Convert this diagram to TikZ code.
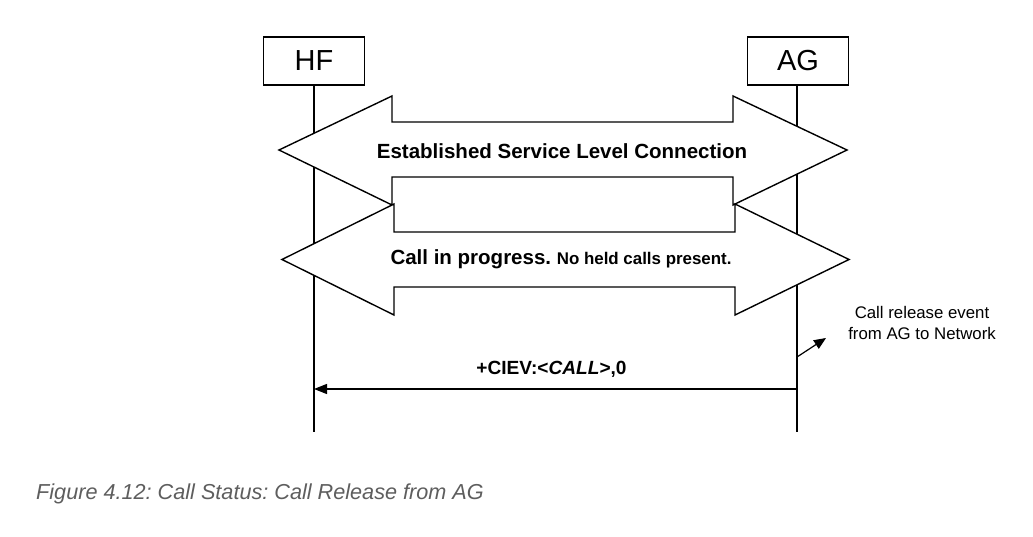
\documentclass[tikz,border=0pt]{standalone}
\usepackage{fontspec}
\setmainfont{Liberation Sans}
\usetikzlibrary{arrows.meta}
\frenchspacing
\tikzset{
  ent/.style={draw, line width=1.3pt, minimum width=101pt, minimum height=48pt, inner sep=0pt, font=\fontsize{29}{32}\selectfont},
  life/.style={line width=1.2pt},
  blockarrow/.style={draw, fill=white, line width=1.4pt, line join=miter},
  msg/.style={line width=1.2pt, -{Triangle[length=13pt, width=10pt]}},
  lbl/.style={inner sep=0pt, font=\bfseries\fontsize{20.5}{24}\selectfont},
  note/.style={inner sep=0pt, align=center, font=\fontsize{16.8}{21}\selectfont},
  figcaption/.style={inner sep=0pt, anchor=west, text=black!63, font=\itshape\fontsize{21.65}{26}\selectfont}
}
\begin{document}
\begin{tikzpicture}[x=1pt,y=-1pt]
\frenchspacing
\useasboundingbox[fill=white] (0,0) rectangle (1033,537);
% entities
\node[ent] (hf) at (314,61) {HF};
\node[ent] (ag) at (798,61) {AG};
\coordinate (hfend) at (314,432);
\coordinate (agend) at (797,432);
\draw[life] (hf.south) -- (hfend);
\draw[life] (ag.south -| agend) -- (agend);
% block arrow 1
\draw[blockarrow] (279,150) -- (392,96) -- (392,122) -- (733,122) -- (733,96) -- (847,150)
  -- (733,205) -- (733,177) -- (392,177) -- (392,205) -- cycle;
\node[lbl] (slc) at (562,151) {Established Service Level Connection};
% block arrow 2
\draw[blockarrow] (282,259.5) -- (394,204) -- (394,232) -- (735,232) -- (735,204) -- (849,259.5)
  -- (735,315) -- (735,287) -- (394,287) -- (394,315) -- cycle;
\node[lbl] (cip) at (561,259) {Call in progress. {\fontsize{16.9}{20}\selectfont No held calls present.}};
% call release event
\node[note] (ev) at (922,323) {Call release event\\from AG to Network};
\coordinate (evs) at (797,357);
\coordinate (evt) at (826,338);
\draw[line width=1.2pt, -{Triangle[length=12pt, width=10pt]}] (evs) -- (evt);
% message
\coordinate (ms) at (797,389);
\coordinate (mt) at (314,389);
\draw[msg] (ms) -- (mt);
\node[lbl, font=\bfseries\fontsize{19.1}{22}\selectfont] (ciev) at (551.5,369) {+CIEV:<\textit{CALL}>,0};
% caption
\node[figcaption] (caption) at (36,494) {Figure 4.12: Call Status: Call Release from AG};
\end{tikzpicture}
\end{document}
